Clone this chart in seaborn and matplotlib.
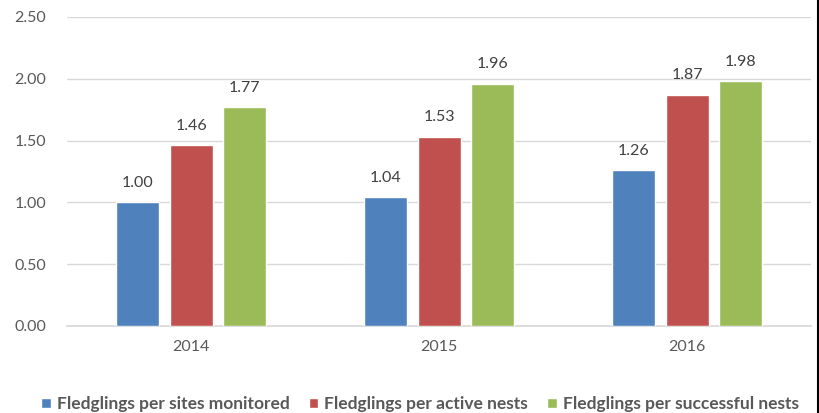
import pandas as pd
import seaborn as sns
import matplotlib.pyplot as plt
from matplotlib.lines import Line2D

# Chart data
years = ["2014", "2015", "2016"]
series_names = [
    "Fledglings per sites monitored",
    "Fledglings per active nests",
    "Fledglings per successful nests",
]
sites_monitored = [1.00, 1.04, 1.26]
active_nests = [1.46, 1.53, 1.87]
successful_nests = [1.77, 1.96, 1.98]
colors = ["#4F81BD", "#C0504D", "#9BBB59"]

df = pd.DataFrame({
    "year": years * 3,
    "series": [s for s in series_names for _ in years],
    "value": sites_monitored + active_nests + successful_nests,
})

sns.set_theme(style="white")
plt.rcParams["font.family"] = ["Lato", "DejaVu Sans"]

fig = plt.figure(figsize=(8.2, 4.13), dpi=100)
ax = fig.add_axes([0.082, 0.211, 0.907, 0.748])

sns.barplot(data=df, x="year", y="value", hue="series", palette=colors,
            width=0.65, gap=0.2, saturation=1, ax=ax, legend=True, zorder=3)

for container in ax.containers:
    ax.bar_label(container, fmt="%.2f", padding=9, fontsize=11.5, color="#404040")

ax.set_ylim(0, 2.5)
ax.set_yticks([0, 0.5, 1.0, 1.5, 2.0, 2.5])
ax.set_yticklabels([f"{v:.2f}" for v in ax.get_yticks()])
ax.yaxis.grid(True, color="#D9D9D9", linewidth=1, zorder=0)
ax.set_axisbelow(True)
ax.tick_params(axis="both", length=0, labelsize=11.5, colors="#595959", pad=10)
ax.tick_params(axis="y", pad=38)
for lbl in ax.get_yticklabels():
    lbl.set_horizontalalignment("left")
ax.set_xlabel("")
ax.set_ylabel("")
for side in ["top", "right", "left"]:
    ax.spines[side].set_visible(False)
ax.spines["bottom"].set_color("#D9D9D9")

handles, labels = ax.get_legend_handles_labels()
ax.legend_.remove()
leg = fig.legend(handles, labels, loc="center", bbox_to_anchor=(0.512, 0.022),
                 ncol=3, frameon=False, handlelength=0.55, handleheight=0.55,
                 handletextpad=0.35, columnspacing=1.1,
                 prop={"size": 12.5, "weight": "bold"})
for t in leg.get_texts():
    t.set_color("#595959")

# black border on the right edge of the image
fig.add_artist(Line2D([0.9975, 0.9975], [0, 1], color="black", linewidth=1.5,
                      transform=fig.transFigure))

fig.savefig("out.png", dpi=100)
